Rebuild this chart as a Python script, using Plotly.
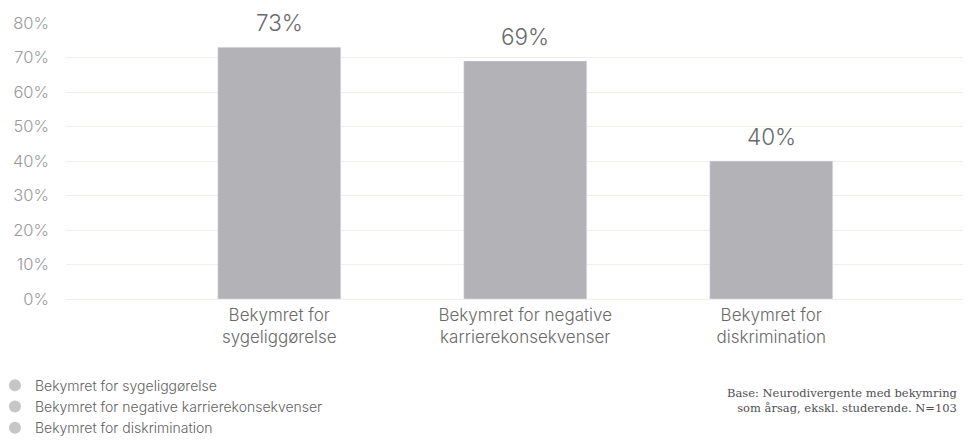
import plotly.graph_objects as go

categories = ["Bekymret for sygeliggørelse",
              "Bekymret for negative karrierekonsekvenser",
              "Bekymret for diskrimination"]
tick_labels = ["Bekymret for<br>sygeliggørelse",
               "Bekymret for negative<br>karrierekonsekvenser",
               "Bekymret for<br>diskrimination"]
values = [73, 69, 40]
y_ticks = [0, 10, 20, 30, 40, 50, 60, 70, 80]
y_tick_labels = [f"{t}%" for t in y_ticks]
footnote = "Base: Neurodivergente med bekymring<br>som årsag, ekskl. studerende. N=103"

BAR = "#b3b2b7"
FONT = "Inter"

fig = go.Figure()
fig.add_trace(go.Bar(x=categories, y=values, marker_color=BAR, width=0.5,
                     showlegend=False, hoverinfo="skip"))
for c in categories:
    fig.add_trace(go.Scatter(x=[c], y=[None], mode="markers", name=c,
                             marker=dict(color="#c6c6c9", size=12, symbol="circle")))

for c, v in zip(categories, values):
    fig.add_annotation(x=c, y=v, text=f"{v}%", showarrow=False, yanchor="bottom",
                       yshift=9, font=dict(family=FONT, size=22.5, color="#6a6a6a", weight=300))

fig.add_annotation(xref="paper", yref="paper", x=0.9878, y=-0.368, xanchor="right",
                   yanchor="middle", align="right", showarrow=False, text=footnote,
                   font=dict(family="DejaVu Serif", size=11.5, color="#4f4f4f"))

fig.update_layout(
    width=963, height=433,
    margin=dict(l=58, r=0, t=15, b=142, autoexpand=False),
    paper_bgcolor="white", plot_bgcolor="white",
    font=dict(family=FONT, color="#666666"),
    xaxis=dict(range=[-0.867, 2.812], tickvals=categories, ticktext=tick_labels,
               showgrid=False, zeroline=False, showline=False, ticks="", automargin=False,
               tickfont=dict(size=17, color="#6a6a6a", weight=300), ticklabelstandoff=4),
    yaxis=dict(range=[0, 80], tickvals=y_ticks, ticktext=y_tick_labels, showgrid=True,
               gridcolor="#f0efea", gridwidth=1, zeroline=True, zerolinecolor="#f0efea",
               zerolinewidth=1, showline=False, ticks="", automargin=False,
               tickfont=dict(size=16.5, color="#9a9a9a", weight=300), ticklabelstandoff=16),
    legend=dict(x=-0.0785, y=-0.256, xanchor="left", yanchor="top",
                font=dict(family=FONT, size=14, color="#626262", weight=300),
                bgcolor="rgba(0,0,0,0)", itemclick=False),
    bargap=0.5,
)

fig.write_html("out.html")
